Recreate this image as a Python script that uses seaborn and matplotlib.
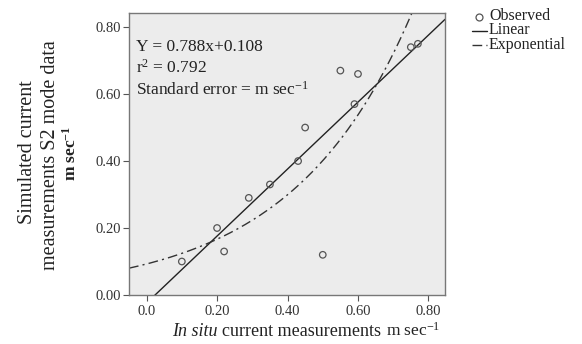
import numpy as np
import pandas as pd
import matplotlib
matplotlib.use("Agg")
import matplotlib.pyplot as plt
import seaborn as sns
from matplotlib.ticker import FixedLocator, FixedFormatter
from matplotlib.lines import Line2D

# ---- data ----
obs_x = [0.10, 0.20, 0.22, 0.29, 0.35, 0.43, 0.45, 0.50, 0.55, 0.59, 0.60, 0.75, 0.77]
obs_y = [0.10, 0.20, 0.13, 0.29, 0.33, 0.40, 0.50, 0.12, 0.67, 0.57, 0.66, 0.74, 0.75]
lin_coef = [1.00, -0.024]          # slope, intercept of drawn linear fit
exp_coef = [0.0927, 2.93]          # a, b of drawn y = a*exp(b*x)
x_ticks = [0.0, 0.2, 0.4, 0.6, 0.8]
x_tick_labels = ["0.0", "0.20", "0.40", "0.60", "0.80"]
y_ticks = [0.0, 0.2, 0.4, 0.6, 0.8]
y_tick_labels = ["0.00", "0.20", "0.40", "0.60", "0.80"]
annot_lines = ["Y = 0.788x+0.108", r"r$\mathregular{^2}$ = 0.792",
               r"Standard error = $\mathregular{m\ sec^{-1}}$"]
legend_labels = ["Observed", "Linear", "Exponential"]

sns.set_theme(style="white")
plt.rcParams["font.family"] = ["Liberation Serif", "DejaVu Serif"]
plt.rcParams["mathtext.fontset"] = "custom"
plt.rcParams["mathtext.rm"] = "Liberation Serif"
plt.rcParams["mathtext.it"] = "Liberation Serif:italic"
plt.rcParams["mathtext.bf"] = "Liberation Serif:bold"

W, H = 582, 344
fig = plt.figure(figsize=(W/100, H/100), dpi=100)
ax = fig.add_axes([129/W, 1-295/H, (445-129)/W, (295-13)/H])
ax.set_facecolor("#ececec")

xmin, xmax = -0.05, 0.847
ymin, ymax = 0.0, 0.842
xs = np.linspace(xmin, xmax, 300)
df_fit = pd.DataFrame({"x": xs,
                       "lin": lin_coef[0]*xs + lin_coef[1],
                       "exp": exp_coef[0]*np.exp(exp_coef[1]*xs)})
df_obs = pd.DataFrame({"x": obs_x, "y": obs_y})

sns.scatterplot(data=df_obs, x="x", y="y", ax=ax, marker="o", s=22,
                facecolor="none", edgecolor="#555555", linewidth=0.9,
                legend=False, zorder=3)
sns.lineplot(data=df_fit, x="x", y="lin", ax=ax, color="#222222", lw=1.0,
             legend=False)
sns.lineplot(data=df_fit, x="x", y="exp", ax=ax, color="#333333", lw=1.0,
             legend=False)
ax.lines[-1].set_dashes([7, 3, 1.5, 3])

ax.set_xlim(xmin, xmax)
ax.set_ylim(ymin, ymax)
ax.xaxis.set_major_locator(FixedLocator(x_ticks))
ax.xaxis.set_major_formatter(FixedFormatter(x_tick_labels))
ax.yaxis.set_major_locator(FixedLocator(y_ticks))
ax.yaxis.set_major_formatter(FixedFormatter(y_tick_labels))
ax.tick_params(axis="both", direction="out", length=4, width=0.8,
               color="#555555", labelsize=10.5, labelcolor="#333333", pad=2,
               bottom=True, left=True)
ax.tick_params(axis="x", pad=3)
for s in ax.spines.values():
    s.set_color("#777777")
    s.set_linewidth(1.0)
ax.set_xlabel("")
ax.set_ylabel("")

for i, t in enumerate(annot_lines):
    fig.text(136/W, 1 - (51 + 22*i)/H, t, fontsize=12.5, color="#222222",
             ha="left", va="baseline")

# x label: three pieces placed one after another
renderer = fig.canvas.get_renderer()
pieces = [("In situ", dict(fontsize=13, style="italic")),
          ("current measurements", dict(fontsize=13)),
          (r"$\mathregular{m\ sec^{-1}}$", dict(fontsize=12.5))]
xpos = 172
for txt, kw in pieces:
    t = fig.text(xpos/W, 1 - 336/H, txt, color="#222222", ha="left",
                 va="baseline", **kw)
    bb = t.get_window_extent(renderer=renderer)
    xpos = bb.x1 + 5

# y label
fig.text(28/W, 1 - 152/H, "Simulated current", fontsize=14.5, rotation=90,
         color="#222222", ha="center", va="center")
fig.text(51/W, 1 - 155/H, "measurements S2 mode data", fontsize=14.5,
         rotation=90, color="#222222", ha="center", va="center")
fig.text(71/W, 1 - 153/H, r"$\mathbf{m\ sec^{-1}}$", fontsize=12.5,
         rotation=90, color="#222222", ha="center", va="center")

# legend drawn manually
fig.add_artist(Line2D([479/W], [1 - 17/H], marker="o", markersize=5,
                      markerfacecolor="none", markeredgecolor="#555555",
                      markeredgewidth=0.9, linestyle="none"))
fig.add_artist(Line2D([472/W, 487/W], [1 - 31/H, 1 - 31/H], color="#222222",
                      lw=1.0))
exp_h = Line2D([472/W, 487/W], [1 - 45/H, 1 - 45/H], color="#333333", lw=1.0)
exp_h.set_dashes([7, 3, 1.5, 3])
fig.add_artist(exp_h)
for i, lab in enumerate(legend_labels):
    fig.text(489/W, 1 - (20 + 14.5*i)/H, lab, fontsize=11.5, color="#222222",
             ha="left", va="baseline")

fig.savefig("out.png", dpi=100)
